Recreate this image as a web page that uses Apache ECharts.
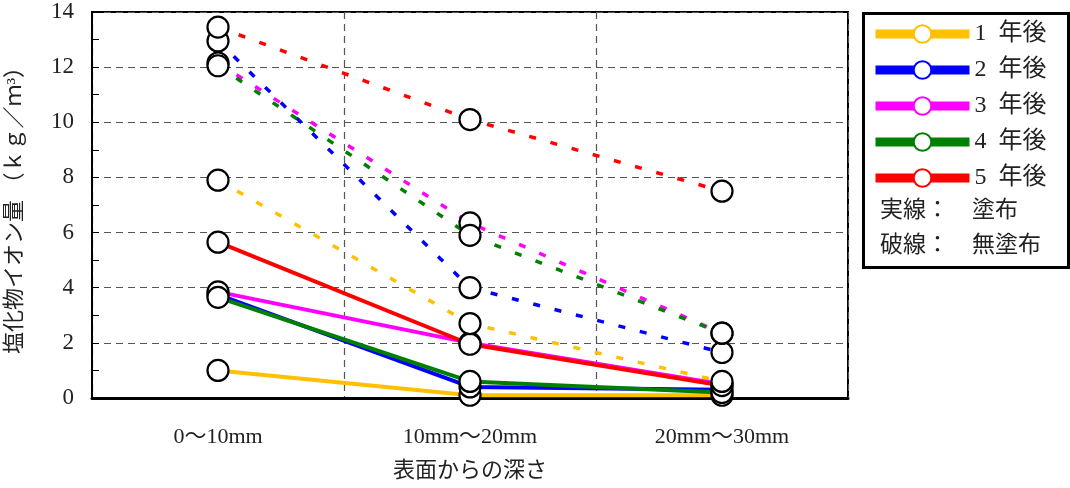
<!DOCTYPE html>
<html>
<head>
<meta charset="utf-8">
<script src="https://cdn.jsdelivr.net/npm/echarts@6/dist/echarts.min.js"></script>
<style>html,body{margin:0;padding:0;background:#fff}#c{width:1070px;height:488px}</style>
</head>
<body>
<div id="c"></div>
<script>
const categories = ['0～10mm', '10mm～20mm', '20mm～30mm'];
const seriesNames = ['1\u2002年後', '2\u2002年後', '3\u2002年後', '4\u2002年後', '5\u2002年後'];
const colors = ['#FFC000', '#0000FF', '#FF00FF', '#008000', '#FF0000'];
// 塗布 (solid)
const coated1 = [1.0, 0.1, 0.1];
const coated2 = [3.75, 0.4, 0.3];
const coated3 = [3.85, 2.0, 0.5];
const coated4 = [3.65, 0.6, 0.2];
const coated5 = [5.65, 1.95, 0.45];
// 無塗布 (dashed)
const uncoated1 = [7.9, 2.7, 0.6];
const uncoated2 = [12.95, 4.0, 1.65];
const uncoated3 = [12.15, 6.35, 2.35];
const uncoated4 = [12.05, 5.9, 2.35];
const uncoated5 = [13.45, 10.1, 7.5];
const yTicks = [0, 2, 4, 6, 8, 10, 12, 14];
const noteLines = ['実線：　塗布', '破線：　無塗布'];

const coated = [coated1, coated2, coated3, coated4, coated5];
const uncoated = [uncoated1, uncoated2, uncoated3, uncoated4, uncoated5];
const FONT = '"Liberation Serif", "DejaVu Serif", "Noto Sans CJK JP", serif';

const series = [];
uncoated.forEach((d, i) => {
  series.push({
    name: 'u' + i, type: 'line', data: d, z: 2,
    showSymbol: false, symbol: 'none',
    lineStyle: { color: colors[i], width: 3.5, type: [7, 15] },
    itemStyle: { color: colors[i] }, silent: true
  });
});
coated.forEach((d, i) => {
  series.push({
    name: seriesNames[i], type: 'line', data: d, z: 3,
    showSymbol: false, symbol: 'circle', symbolSize: 20,
    lineStyle: { color: colors[i], width: 4 },
    itemStyle: { color: '#fff', borderColor: colors[i], borderWidth: 2 }, silent: true
  });
});
coated.concat(uncoated).forEach((d, i) => {
  series.push({
    name: 'm' + i, type: 'scatter', data: d, z: 5, symbol: 'circle', symbolSize: 21,
    itemStyle: { color: '#fff', borderColor: '#000', borderWidth: 2.2, opacity: 1 }, silent: true
  });
});

const chart = echarts.init(document.getElementById('c'), null, { renderer: 'canvas' });
chart.setOption({
  animation: false,
  backgroundColor: '#fff',
  grid: { left: 92, right: 222, top: 12, bottom: 90, show: true, borderColor: '#000', borderWidth: 2,
    backgroundColor: 'transparent', containLabel: false, outerBoundsMode: 'none' },
  xAxis: {
    type: 'category', data: categories, boundaryGap: true,
    axisLine: { lineStyle: { color: '#000', width: 3 } },
    axisTick: { show: false },
    axisLabel: { color: '#222', fontFamily: FONT, fontSize: 22, margin: 28 },
    splitLine: { show: true, lineStyle: { color: '#555', type: [7, 5], width: 1.2 } },
    name: '表面からの深さ', nameLocation: 'middle', nameGap: 62,
    nameTextStyle: { color: '#222', fontFamily: FONT, fontSize: 22 }
  },
  yAxis: {
    type: 'value', min: 0, max: 14, interval: 2,
    axisLine: { show: true, lineStyle: { color: '#000', width: 2 } },
    axisTick: { show: true, inside: true, length: 7, lineStyle: { color: '#000' } },
    minorTick: { show: true, splitNumber: 2, length: 7, lineStyle: { color: '#000' } },
    axisLabel: { color: '#222', fontFamily: FONT, fontSize: 23, margin: 18,
      formatter: v => yTicks.indexOf(v) >= 0 ? String(v) : '' },
    splitLine: { show: true, lineStyle: { color: '#555', type: [7, 5], width: 1.2 } },
    name: '塩化物イオン量 （ｋｇ／ｍ³）', nameLocation: 'middle', nameGap: 66, nameRotate: 90,
    nameTextStyle: { color: '#222', fontFamily: FONT, fontSize: 22 }
  },
  legend: {
    show: true, orient: 'vertical', left: 866, top: 17,
    itemWidth: 94, itemHeight: 22, itemGap: 12,
    textStyle: { color: '#222', fontFamily: FONT, fontSize: 24, padding: [0, 0, 0, 0] },
    data: seriesNames.map((n, i) => ({
      name: n,
      itemStyle: { color: '#fff', borderColor: colors[i], borderWidth: 2 },
      lineStyle: { color: colors[i], width: 9 }
    }))
  },
  graphic: [
    { type: 'rect', left: 862, top: 12, z: 0,
      shape: { width: 205, height: 254 },
      style: { fill: '#fff', stroke: '#000', lineWidth: 3 } },
    { type: 'text', left: 880, top: 199, z: 10,
      style: { text: noteLines[0], font: '23px ' + FONT, fill: '#222' } },
    { type: 'text', left: 880, top: 234, z: 10,
      style: { text: noteLines[1], font: '23px ' + FONT, fill: '#222' } }
  ],
  series: series
});
</script>
</body>
</html>
